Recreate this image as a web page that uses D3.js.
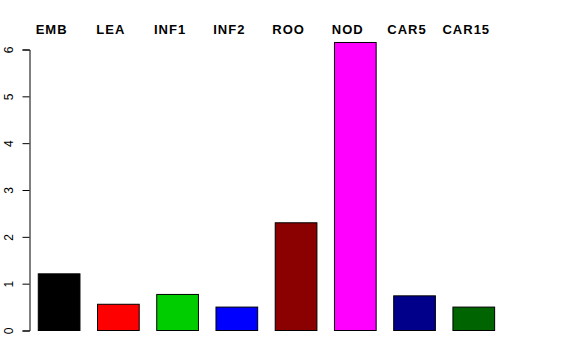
<!DOCTYPE html>
<html>
<head>
<meta charset="utf-8">
<script src="https://cdn.jsdelivr.net/npm/d3@7"></script>
<style>
  body { margin: 0; background: #fff; }
  svg { display: block; }
</style>
</head>
<body>
<div id="chart"></div>
<script>
const width = 576;
const height = 360;

// data
var tissues = ['EMB', 'LEA', 'INF1', 'INF2', 'ROO', 'NOD', 'CAR5', 'CAR15'];
var values = [1.21, 0.56, 0.77, 0.50, 2.30, 6.15, 0.74, 0.50];
var barColors = ['#000000', '#ff0000', '#00cd00', '#0000ff', '#8b0000', '#ff00ff', '#00008b', '#006400'];
var yTicks = [0, 1, 2, 3, 4, 5, 6];

var svg = d3.select('#chart')
  .append('svg')
  .attr('width', width)
  .attr('height', height);

// x: bars, step ~59.2px
var x = d3.scaleBand()
  .domain(tissues)
  .range([29.5, 503.4])
  .paddingInner(0.296)
  .paddingOuter(0.148);

// y: value scale
var y = d3.scaleLinear()
  .domain([0, 6])
  .range([330.5, 49.5]);

// bars
svg.selectAll('rect.bar')
  .data(tissues)
  .enter()
  .append('rect')
  .attr('class', 'bar')
  .attr('x', function(d) { return x(d); })
  .attr('y', function(d, i) { return y(values[i]); })
  .attr('width', x.bandwidth())
  .attr('height', function(d, i) { return y(0) - y(values[i]); })
  .style('fill', function(d, i) { return barColors[i]; })
  .style('stroke', '#000')
  .style('stroke-width', 1);

// y axis, R style
var yAxis = svg.append('g')
  .attr('transform', 'translate(29.5,0)')
  .call(d3.axisLeft(y).tickValues(yTicks).tickSize(7).tickFormat(d3.format('d')));

yAxis.select('.domain').style('stroke', '#000');
yAxis.selectAll('.tick line').style('stroke', '#000');
yAxis.selectAll('.tick text')
  .attr('x', 0)
  .attr('y', 0)
  .attr('dy', null)
  .attr('transform', 'translate(-17,0) rotate(-90)')
  .style('text-anchor', 'middle')
  .style('font-family', 'Liberation Sans, Arial, sans-serif')
  .style('font-size', '12px')
  .style('fill', '#000');

// labels on top, a little left of the bar centres
svg.selectAll('text.lab')
  .data(tissues)
  .enter()
  .append('text')
  .attr('class', 'lab')
  .attr('x', function(d) { return x(d) + x.bandwidth() / 2 - 7.5; })
  .attr('y', 34)
  .style('text-anchor', 'middle')
  .style('font-family', 'Liberation Sans, Arial, sans-serif')
  .style('font-weight', 'bold')
  .style('font-size', '13px')
  .style('letter-spacing', '1px')
  .text(function(d) { return d; });
</script>
</body>
</html>
